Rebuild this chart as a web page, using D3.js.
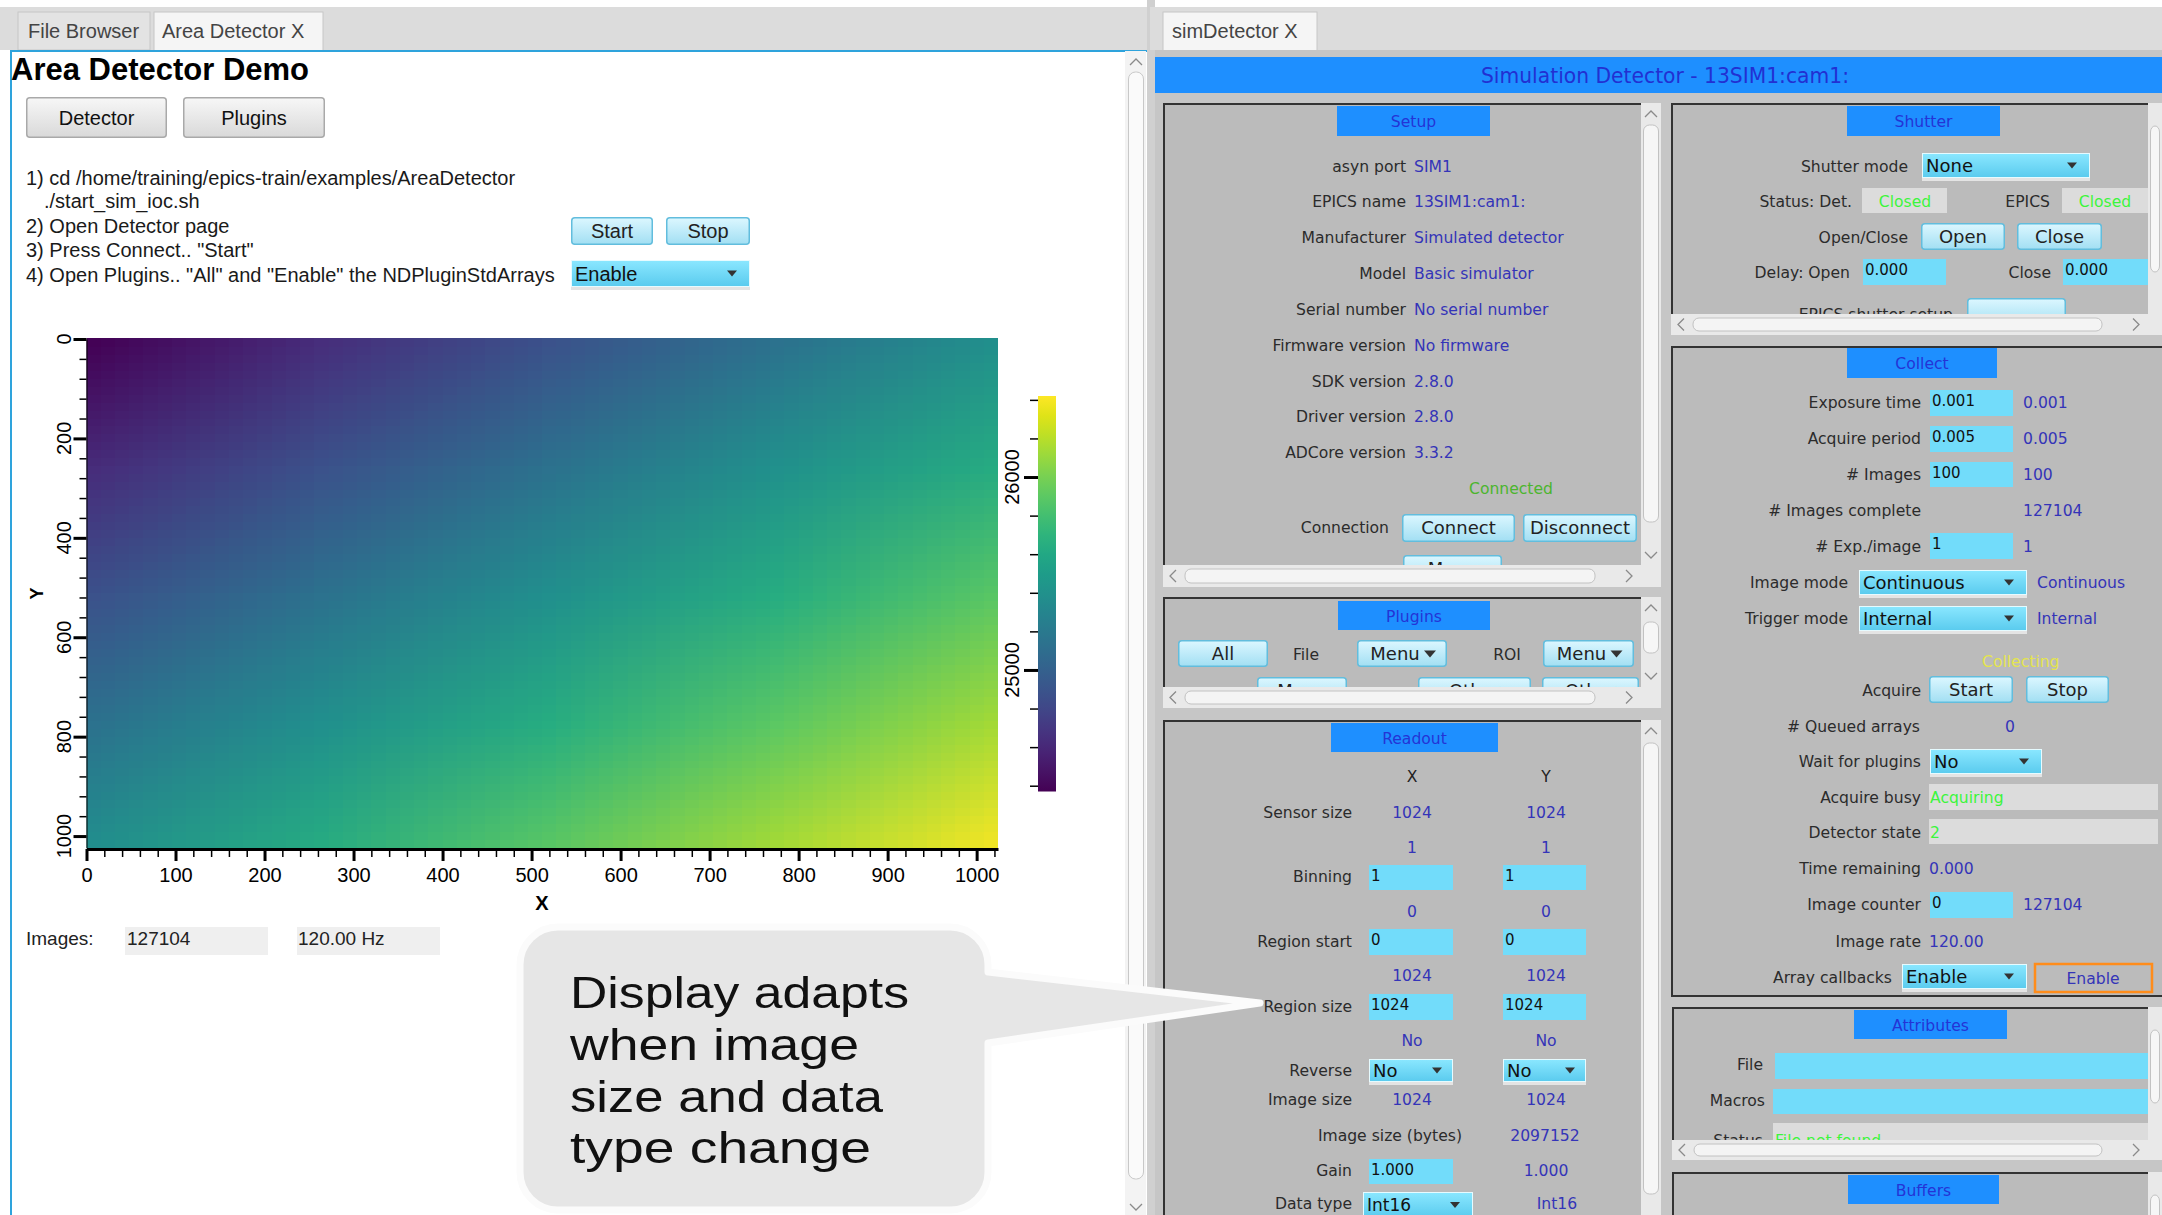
<!DOCTYPE html>
<html><head><meta charset="utf-8">
<script src="https://cdn.jsdelivr.net/npm/d3@7"></script>
<style>
html,body{margin:0;padding:0;background:#fff;overflow:hidden}
svg{display:block}
</style></head><body>
<svg id="root" width="2162" height="1215"></svg>
<script>
// ================= DATA =================
// detector image sampled on a coarse grid (pixel coordinates), values in counts
const gridX = [0, 256, 512, 768, 1024];
const gridY = [0, 256, 512, 768, 1024];
const pixelValues = [
  [24380, 24640, 24890, 25140, 25400],
  [24630, 24890, 25140, 25400, 25650],
  [24890, 25140, 25390, 25650, 25900],
  [25140, 25390, 25650, 25900, 26150],
  [25390, 25650, 25900, 26150, 26410]
];
const colorRange = [24370, 26420];
const imageSize = [0, 1024];
const xTickLabels = [0, 100, 200, 300, 400, 500, 600, 700, 800, 900, 1000];
const yTickLabels = [0, 200, 400, 600, 800, 1000];
const cbTickLabels = [25000, 26000];
const imagesCount = "127104";
const imageRate = "120.00 Hz";
const instructions = [
  "1) cd /home/training/epics-train/examples/AreaDetector",
  "./start_sim_ioc.sh",
  "2) Open Detector page",
  "3) Press Connect.. \"Start\"",
  "4) Open Plugins.. \"All\" and \"Enable\" the NDPluginStdArrays"
];
const setupLabels = ["asyn port","EPICS name","Manufacturer","Model","Serial number","Firmware version","SDK version","Driver version","ADCore version"];
const setupValues = ["SIM1","13SIM1:cam1:","Simulated detector","Basic simulator","No serial number","No firmware","2.8.0","2.8.0","3.3.2"];
const calloutLines = ["Display adapts","when image","size and data","type change"];

// ================= HELPERS =================
const FS = "DejaVu Sans", FL = "Liberation Sans";
const svg = d3.select("#root");
const defs = svg.append("defs");
function lg(id, stops){
  const g = defs.append("linearGradient").attr("id",id).attr("x1",0).attr("y1",0).attr("x2",0).attr("y2",1);
  stops.forEach(s=>g.append("stop").attr("offset",s[0]).attr("stop-color",s[1]));
}
lg("gBtn",[["0%","#dcf7ff"],["100%","#a2dff3"]]);
lg("gGray",[["0%","#f7f7f7"],["100%","#d9d9d9"]]);
lg("gCombo",[["0%","#8ae7ff"],["100%","#5acbee"]]);
let clipN = 0;
function clipG(parent,x0,y0,x1,y1){
  const id = "clp"+(clipN++);
  defs.append("clipPath").attr("id",id).append("rect").attr("x",x0).attr("y",y0).attr("width",x1-x0).attr("height",y1-y0);
  return parent.append("g").attr("clip-path",`url(#${id})`);
}
function T(g,x,y,s,o={}){
  const t = g.append("text").attr("x",x).attr("y",y).text(s)
    .attr("font-family",o.f||FS).attr("font-size",o.s||15.6).attr("fill",o.c||"#2b2b2b")
    .attr("text-anchor",o.a||"start");
  if(o.w) t.attr("font-weight",o.w);
  if(o.tl) t.attr("textLength",o.tl).attr("lengthAdjust","spacingAndGlyphs");
  return t;
}
function R(g,x0,y0,x1,y1,fill,o={}){
  const r = g.append("rect").attr("x",x0).attr("y",y0).attr("width",x1-x0).attr("height",y1-y0).attr("fill",fill);
  if(o.st) r.attr("stroke",o.st).attr("stroke-width",o.sw||1);
  if(o.rx) r.attr("rx",o.rx);
  return r;
}
function btn(g,x0,y0,x1,y1,label,o={}){
  R(g,x0+0.75,y0+0.75,x1-0.75,y1-0.75,o.fill||"url(#gBtn)",{st:o.st||"#62bddd",sw:1.5,rx:3});
  const s=o.s||18;
  T(g,(x0+x1)/2 - (o.tri?7:0),(y0+y1)/2+s*0.36,label,{a:"middle",s:s,c:o.c||"#222",f:o.f||FS});
  if(o.tri){
    const cx=(x0+x1)/2+28, cy=(y0+y1)/2;
    g.append("path").attr("d",`M${cx-6},${cy-3}L${cx+6},${cy-3}L${cx},${cy+4}Z`).attr("fill","#333");
  }
}
function inp(g,x0,y0,x1,y1,val){
  R(g,x0,y0,x1,y1,"#72dcfa");
  if(val!=null) T(g,x0+2,y0+16,val,{s:15,c:"#111"});
}
function combo(g,x0,y0,x1,y1,val,o={}){
  R(g,x0,y1,x1,y1+3,"#e4e4e4");
  R(g,x0+0.5,y0+0.5,x1-0.5,y1-0.5,"url(#gCombo)",{st:"#e6fbff",sw:1});
  const s=o.s||18;
  T(g,x0+4,(y0+y1)/2+s*0.37,val,{s:s,c:"#111",f:o.f||FS});
  const cx=x1-(o.ax||18), cy=(y0+y1)/2;
  g.append("path").attr("d",`M${cx-5},${cy-3}L${cx+5},${cy-3}L${cx},${cy+3}Z`).attr("fill","#333");
}
function header(g,x0,y0,x1,y1,label){
  R(g,x0,y0,x1,y1,"#1e8fff");
  T(g,(x0+x1)/2,(y0+y1)/2+6,label,{a:"middle",c:"#2434d6"});
}
function chev(g,cx,cy,dir){
  const d = {up:`M${cx-6},${cy+3}L${cx},${cy-3}L${cx+6},${cy+3}`,
             dn:`M${cx-6},${cy-3}L${cx},${cy+3}L${cx+6},${cy-3}`,
             lf:`M${cx+3},${cy-6}L${cx-3},${cy}L${cx+3},${cy+6}`,
             rt:`M${cx-3},${cy-6}L${cx+3},${cy}L${cx-3},${cy+6}`}[dir];
  g.append("path").attr("d",d).attr("fill","none").attr("stroke","#8a8a8a").attr("stroke-width",1.3);
}
function vscroll(g,x0,y0,x1,y1,t0,t1,arrows=true){
  R(g,x0,y0,x1,y1,"#e9e9e9");
  R(g,x0+2.5,t0,x1-2.5,t1,"#f6f6f6",{st:"#c2c2c2",sw:1,rx:6});
  if(arrows){ chev(g,(x0+x1)/2,y0+11,"up"); chev(g,(x0+x1)/2,y1-32,"dn"); }
}
function hscroll(g,x0,y0,x1,y1){
  R(g,x0,y0,x1,y1,"#e9e9e9");
  R(g,x0+22,y0+4,x1-46,y1-4,"#f4f4f4",{st:"#c2c2c2",sw:1,rx:6});
  chev(g,x0+10,(y0+y1)/2,"lf"); chev(g,x1-12,(y0+y1)/2,"rt");
}
function panel(g,x0,y0,x1,y1,bottom=false){
  R(g,x0,y0,x1,y1,"#bbbbbb");
  g.append("path").attr("d",`M${x0+1},${y1}V${y0+1}H${x1}`).attr("fill","none").attr("stroke","#333").attr("stroke-width",2);
  if(bottom) g.append("line").attr("x1",x0).attr("x2",x1).attr("y1",y1-1).attr("y2",y1-1).attr("stroke","#333").attr("stroke-width",2);
}
const VAL="#3434b8", LAB="#2b2b2b";
function row(g,lx,y,label,vx,val,o={}){
  if(label) T(g,lx,y,label,{a:"end",c:LAB});
  if(val!=null) T(g,vx,y,val,{c:o.c||VAL,a:o.a||"start"});
}

// ================= LEFT SIDE =================
R(svg,0,0,2162,1215,"#ffffff");
R(svg,0,7,1150,50,"#dcdcdc");
R(svg,18,12,150,50,"#e3e3e3",{st:"#c6c6c6"});
T(svg,28,38,"File Browser",{f:FL,s:20,c:"#444"});
R(svg,154,12,323,51,"#f5f5f5",{st:"#c6c6c6"});
T(svg,162,38,"Area Detector X",{f:FL,s:20,c:"#444"});
// content frame
R(svg,10,50,1147,1215,"#ffffff");
svg.append("path").attr("d","M11,1215V51H1147").attr("fill","none").attr("stroke","#2ea3dc").attr("stroke-width",2);

T(svg,11,80,"Area Detector Demo",{f:FL,s:31,w:"bold",c:"#000"});
btn(svg,26,97,167,138,"Detector",{fill:"url(#gGray)",st:"#a9a9a9",f:FL,s:20,c:"#111"});
btn(svg,183,97,325,138,"Plugins",{fill:"url(#gGray)",st:"#a9a9a9",f:FL,s:20,c:"#111"});
const instY=[185,208,233,257,282], instX=[26,44,26,26,26];
instructions.forEach((s,i)=>T(svg,instX[i],instY[i],s,{f:FL,s:20,c:"#1a1a1a"}));
btn(svg,571,217,653,245,"Start",{f:FL,s:20});
btn(svg,666,217,750,245,"Stop",{f:FL,s:20});
combo(svg,571,260,750,287,"Enable",{f:FL,s:20});

// ---- heatmap ----
const x = d3.scaleLinear().domain(imageSize).range([86.5,998]);
const y = d3.scaleLinear().domain(imageSize).range([339,848]);
const color = d3.scaleSequential(d3.interpolateViridis).domain(colorRange);
const cnv = document.createElement("canvas");
cnv.width = gridX.length; cnv.height = gridY.length;
const ctx = cnv.getContext("2d");
pixelValues.forEach((rowv,j)=>rowv.forEach((v,i)=>{ctx.fillStyle=color(v);ctx.fillRect(i,j,1,1);}));
const cw = x(gridX[1])-x(gridX[0]), ch = y(gridY[1])-y(gridY[0]);
const gImg = clipG(svg,x(0),y(0)-1,x(1024),y(1024));
gImg.append("image").attr("href",cnv.toDataURL())
  .attr("x",x(gridX[0])-cw/2).attr("y",y(gridY[0])-ch/2)
  .attr("width",cw*gridX.length).attr("height",ch*gridY.length)
  .attr("preserveAspectRatio","none");

// x axis
const gx = svg.append("g").attr("transform","translate(0,849)");
const xMinor = d3.range(0,1025,20).filter(v=>v%100!==0);
gx.append("g").call(d3.axisBottom(x).tickValues(xMinor).tickSize(8).tickSizeOuter(0).tickFormat(""))
  .call(g=>g.select(".domain").remove())
  .call(g=>g.selectAll("line").attr("stroke","#000").attr("stroke-width",1.5));
gx.append("g").call(d3.axisBottom(x).tickValues(xTickLabels).tickSize(12).tickSizeOuter(0).tickPadding(7).tickFormat(d3.format("d")))
  .call(g=>g.select(".domain").attr("stroke","#000").attr("stroke-width",3))
  .call(g=>g.selectAll("line").attr("stroke","#000").attr("stroke-width",3))
  .call(g=>g.selectAll("text").attr("font-family",FL).attr("font-size",20).attr("fill","#000"));
T(svg,542,910,"X",{f:FL,s:20,w:"bold",c:"#000",a:"middle"});

// y axis
const gy = svg.append("g").attr("transform","translate(86.5,0)");
const yMinor = d3.range(0,1025,40).filter(v=>v%200!==0);
gy.append("g").call(d3.axisLeft(y).tickValues(yMinor).tickSize(7).tickSizeOuter(0).tickFormat(""))
  .call(g=>g.select(".domain").attr("stroke","#000").attr("stroke-width",1))
  .call(g=>g.selectAll("line").attr("stroke","#000").attr("stroke-width",1.5));
gy.append("g").call(d3.axisLeft(y).tickValues(yTickLabels).tickSize(13).tickSizeOuter(0).tickFormat(""))
  .call(g=>g.select(".domain").remove())
  .call(g=>g.selectAll("line").attr("stroke","#000").attr("stroke-width",3));
yTickLabels.forEach(v=>{
  T(svg,0,0,String(v),{f:FL,s:20,c:"#000",a:"middle"}).attr("transform",`translate(71,${y(v)}) rotate(-90)`);
});
T(svg,0,0,"Y",{f:FL,s:18,w:"bold",c:"#000",a:"middle"}).attr("transform",`translate(43,${(y(0)+y(1024))/2}) rotate(-90)`);

// colorbar
const cb = d3.scaleLinear().domain(colorRange).range([791.5,396]);
const cg = defs.append("linearGradient").attr("id","gCb").attr("x1",0).attr("y1",1).attr("x2",0).attr("y2",0);
d3.range(0,1.0001,0.05).forEach(t=>cg.append("stop").attr("offset",t).attr("stop-color",color(colorRange[0]+t*(colorRange[1]-colorRange[0]))));
R(svg,1038,cb(colorRange[1]),1056,cb(colorRange[0]),"url(#gCb)");
const cbMinor = d3.range(24400,26401,200).filter(v=>!cbTickLabels.includes(v));
const gcb = svg.append("g").attr("transform","translate(1038,0)");
gcb.append("g").call(d3.axisLeft(cb).tickValues(cbMinor).tickSize(8).tickSizeOuter(0).tickFormat(""))
  .call(g=>g.select(".domain").remove())
  .call(g=>g.selectAll("line").attr("stroke","#000").attr("stroke-width",1.5));
gcb.append("g").call(d3.axisLeft(cb).tickValues(cbTickLabels).tickSize(14).tickSizeOuter(0).tickFormat(""))
  .call(g=>g.select(".domain").remove())
  .call(g=>g.selectAll("line").attr("stroke","#000").attr("stroke-width",3));
cbTickLabels.forEach(v=>{
  T(svg,0,0,String(v),{f:FL,s:20,c:"#000",a:"middle"}).attr("transform",`translate(1019,${cb(v)}) rotate(-90)`);
});

// images row
T(svg,26,945,"Images:",{f:FL,s:19,c:"#222"});
R(svg,125,927,268,955,"#efefef");
T(svg,127,945,imagesCount,{f:FL,s:19,c:"#222"});
R(svg,297,927,440,955,"#efefef");
T(svg,298,945,imageRate,{f:FL,s:19,c:"#222"});

// left scrollbar
R(svg,1125,51,1146,1215,"#f3f3f3");
R(svg,1128.5,72,1143.5,1179,"#fafafa",{st:"#c8c8c8",rx:7});
chev(svg,1136,62,"up"); chev(svg,1136,1207,"dn");

// ================= RIGHT SIDE =================
R(svg,1147,0,1155,1215,"#d0d0d0");
R(svg,1150,7,2162,50,"#dcdcdc");
R(svg,1163,12,1317,51,"#f5f5f5",{st:"#c6c6c6"});
T(svg,1172,38,"simDetector X",{f:FL,s:20,c:"#444"});
R(svg,1155,50,2162,1215,"#c6c6c6");
R(svg,1155,57,2162,93,"#1e8fff");
T(svg,1665,83,"Simulation Detector - 13SIM1:cam1:",{s:21.5,c:"#2230d2",a:"middle",tl:368});

// ---- Setup panel ----
panel(svg,1163,103,1641,565);
const gS = clipG(svg,1163,103,1641,565);
header(gS,1337,106,1490,136,"Setup");
const setupY=[172,207,243,279,315,351,387,422,458];
setupLabels.forEach((l,i)=>row(gS,1406,setupY[i],l,1414,setupValues[i]));
T(gS,1469,494,"Connected",{c:"#4cb52e"});
T(gS,1389,533,"Connection",{a:"end",c:LAB});
btn(gS,1402,514,1515,542,"Connect");
btn(gS,1523,514,1637,542,"Disconnect");
btn(gS,1403,555,1502,583,"Menu");
vscroll(svg,1641,103,1661,587,125,522);
hscroll(svg,1163,565,1641,587);

// ---- Shutter panel ----
panel(svg,1671,103,2148,314);
const gSh = clipG(svg,1671,103,2148,314);
header(gSh,1847,106,2000,136,"Shutter");
T(gSh,1908,172,"Shutter mode",{a:"end",c:LAB});
combo(gSh,1922,153,2090,178,"None");
T(gSh,1852,207,"Status: Det.",{a:"end",c:LAB});
R(gSh,1862,188,1947,213,"#dcdcdc"); T(gSh,1905,207,"Closed",{a:"middle",c:"#3cf53c"});
T(gSh,2050,207,"EPICS",{a:"end",c:LAB});
R(gSh,2062,188,2148,213,"#dcdcdc"); T(gSh,2105,207,"Closed",{a:"middle",c:"#3cf53c"});
T(gSh,1908,243,"Open/Close",{a:"end",c:LAB});
btn(gSh,1921,223,2005,250,"Open");
btn(gSh,2017,223,2102,250,"Close");
T(gSh,1850,278,"Delay: Open",{a:"end",c:LAB});
inp(gSh,1863,259,1946,285,"0.000");
T(gSh,2051,278,"Close",{a:"end",c:LAB});
inp(gSh,2063,259,2148,285,"0.000");
T(gSh,1953,320,"EPICS shutter setup",{a:"end",c:LAB});
btn(gSh,1967,298,2066,326,"");
vscroll(svg,2148,103,2162,335,126,272,false);
hscroll(svg,1671,314,2148,335);

// ---- Collect panel ----
panel(svg,1671,346,2170,997,true);
const gC = clipG(svg,1671,346,2162,997);
header(gC,1847,348,1997,378,"Collect");
row(gC,1921,408,"Exposure time",2023,"0.001"); inp(gC,1930,390,2013,416,"0.001");
row(gC,1921,444,"Acquire period",2023,"0.005"); inp(gC,1930,426,2013,452,"0.005");
row(gC,1921,480,"# Images",2023,"100"); inp(gC,1930,462,2013,487,"100");
row(gC,1921,516,"# Images complete",2023,"127104");
row(gC,1921,552,"# Exp./image",2023,"1"); inp(gC,1930,533,2013,559,"1");
row(gC,1848,588,"Image mode",2037,"Continuous"); combo(gC,1859,570,2027,595,"Continuous");
row(gC,1848,624,"Trigger mode",2037,"Internal"); combo(gC,1859,606,2027,631,"Internal");
T(gC,1982,667,"Collecting",{c:"#e4e44e"});
row(gC,1921,696,"Acquire",0,null);
btn(gC,1929,676,2013,703,"Start");
btn(gC,2026,676,2109,703,"Stop");
row(gC,1920,732,"# Queued arrays",2005,"0");
row(gC,1921,767,"Wait for plugins",0,null); combo(gC,1930,749,2042,774,"No");
row(gC,1921,803,"Acquire busy",0,null); R(gC,1929,784,2158,810,"#dcdcdc"); T(gC,1930,803,"Acquiring",{c:"#3cf53c"});
row(gC,1921,838,"Detector state",0,null); R(gC,1929,819,2158,844,"#dcdcdc"); T(gC,1930,838,"2",{c:"#3cf53c"});
row(gC,1921,874,"Time remaining",1929,"0.000");
row(gC,1921,910,"Image counter",2023,"127104"); inp(gC,1930,892,2013,918,"0");
row(gC,1921,947,"Image rate",1929,"120.00");
row(gC,1892,983,"Array callbacks",0,null); combo(gC,1902,964,2027,989,"Enable");
R(gC,2035,964,2152,992,"none",{st:"#ff8c1a",sw:2.5});
T(gC,2093,984,"Enable",{a:"middle",c:VAL});

// ---- Plugins panel ----
panel(svg,1163,597,1641,687);
const gP = clipG(svg,1163,597,1641,687);
header(gP,1338,601,1490,630,"Plugins");
btn(gP,1178,640,1268,667,"All");
T(gP,1306,660,"File",{a:"middle",c:LAB});
btn(gP,1357,640,1447,667,"Menu",{tri:true});
T(gP,1507,660,"ROI",{a:"middle",c:LAB});
btn(gP,1543,640,1634,667,"Menu",{tri:true});
btn(gP,1257,677,1347,704,"Menu");
btn(gP,1418,677,1531,704,"Other");
btn(gP,1542,677,1639,704,"Other");
vscroll(svg,1641,597,1661,708,622,653,true);
hscroll(svg,1163,687,1641,708);

// ---- Readout panel ----
panel(svg,1163,720,1641,1215);
const gR = clipG(svg,1163,720,1641,1215);
header(gR,1331,723,1498,752,"Readout");
const cX=1412, cY=1546, LX=1352;
T(gR,cX,782,"X",{a:"middle",c:"#222"}); T(gR,cY,782,"Y",{a:"middle",c:"#222"});
function rr(yb,label,v1,v2){ if(label) T(gR,LX,yb,label,{a:"end",c:LAB}); if(v1!=null){T(gR,cX,yb,v1,{a:"middle",c:VAL});T(gR,cY,yb,v2,{a:"middle",c:VAL});} }
rr(818,"Sensor size","1024","1024");
rr(853,null,"1","1");
rr(882,"Binning"); inp(gR,1369,865,1453,890,"1"); inp(gR,1503,865,1586,890,"1");
rr(917,null,"0","0");
rr(947,"Region start"); inp(gR,1369,929,1453,955,"0"); inp(gR,1503,929,1586,955,"0");
rr(981,null,"1024","1024");
rr(1012,"Region size"); inp(gR,1369,994,1453,1020,"1024"); inp(gR,1503,994,1586,1020,"1024");
rr(1046,null,"No","No");
rr(1076,"Reverse"); combo(gR,1369,1059,1453,1082,"No",{ax:16}); combo(gR,1503,1059,1586,1082,"No",{ax:16});
rr(1105,"Image size","1024","1024");
T(gR,1462,1141,"Image size (bytes)",{a:"end",c:LAB}); T(gR,1545,1141,"2097152",{a:"middle",c:VAL});
T(gR,LX,1176,"Gain",{a:"end",c:LAB}); inp(gR,1369,1159,1453,1184,"1.000"); T(gR,cY,1176,"1.000",{a:"middle",c:VAL});
T(gR,LX,1209,"Data type",{a:"end",c:LAB}); combo(gR,1363,1192,1473,1218,"Int16",{s:17}); T(gR,1557,1209,"Int16",{a:"middle",c:VAL});
vscroll(svg,1641,720,1661,1240,743,1194,false);
chev(svg,1651,731,"up");

// ---- Attributes panel ----
panel(svg,1672,1007,2148,1140);
const gA = clipG(svg,1672,1007,2148,1140);
header(gA,1854,1010,2007,1039,"Attributes");
T(gA,1763,1070,"File",{a:"end",c:LAB}); R(gA,1775,1053,2148,1079,"#72dcfa");
T(gA,1765,1106,"Macros",{a:"end",c:LAB}); R(gA,1773,1089,2148,1114,"#72dcfa");
T(gA,1763,1146,"Status",{a:"end",c:LAB}); R(gA,1773,1123,2148,1150,"#dcdcdc"); T(gA,1775,1146,"File not found",{c:"#3cf53c"});
vscroll(svg,2148,1007,2162,1160,1030,1103,false);
hscroll(svg,1672,1140,2148,1160);

// ---- Buffers panel ----
panel(svg,1672,1172,2148,1215);
header(svg,1848,1175,1999,1204,"Buffers");
vscroll(svg,2148,1172,2162,1240,1195,1240,false);

// ================= CALLOUT =================
const cr=38, L=520, Tp=927, Rr=988, B=1210;
const pathD = `M${L+cr},${Tp}H${Rr-cr}A${cr},${cr} 0 0 1 ${Rr},${Tp+cr}V972L1260,1003L${Rr},1043V${B-cr}A${cr},${cr} 0 0 1 ${Rr-cr},${B}H${L+cr}A${cr},${cr} 0 0 1 ${L},${B-cr}V${Tp+cr}A${cr},${cr} 0 0 1 ${L+cr},${Tp}Z`;
svg.append("path").attr("d",pathD).attr("fill","#e6e6e6").attr("stroke","#fbfbfb").attr("stroke-width",7).attr("stroke-linejoin","round");
const cY0=[1008,1060,1112,1163], cTL=[339,289,313,301];
calloutLines.forEach((s,i)=>T(svg,570,cY0[i],s,{f:FL,s:45,c:"#111",tl:cTL[i]}));
</script>
</body></html>
